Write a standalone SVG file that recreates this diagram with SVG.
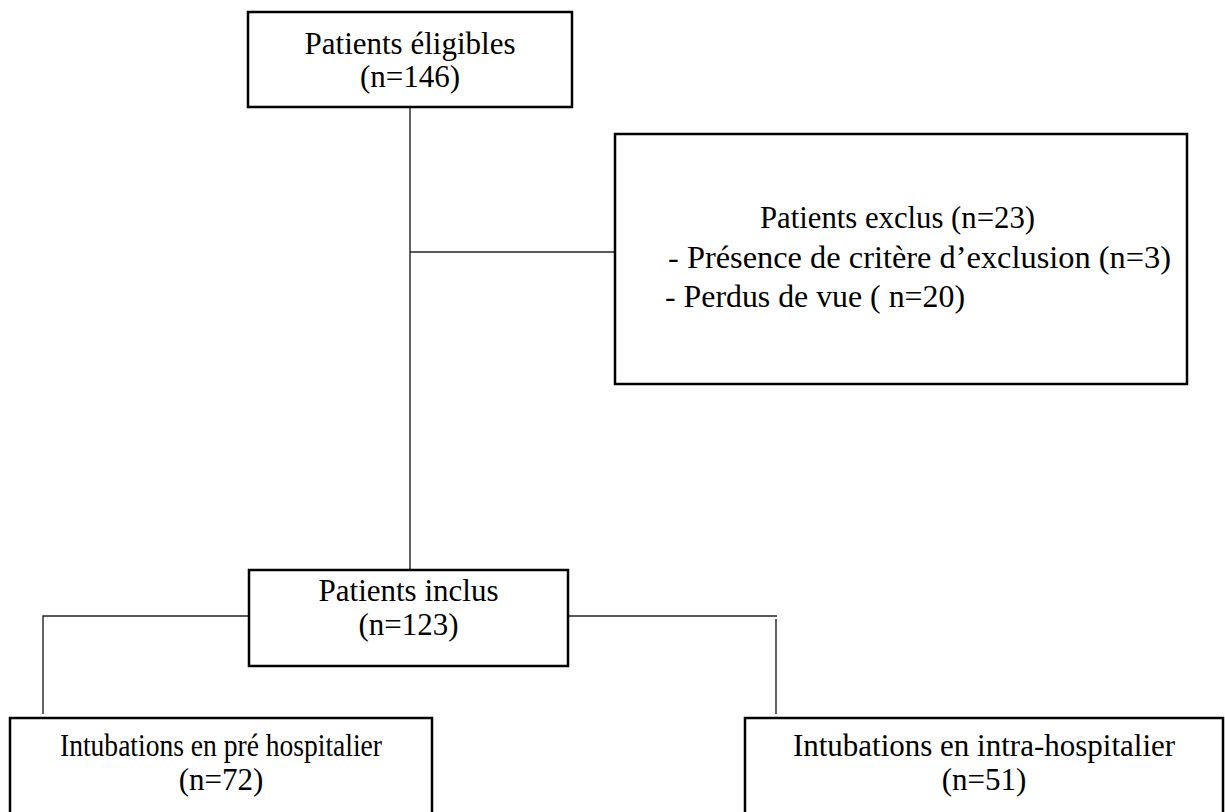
<svg xmlns="http://www.w3.org/2000/svg" width="1225" height="812" viewBox="0 0 1225 812">
<style>
.box{fill:#fff;stroke:#000;stroke-width:2.5}
.con{fill:none;stroke:#222;stroke-width:1.4}
text{font-family:"Liberation Serif","Times New Roman",serif;font-size:31px;fill:#000}
.c{text-anchor:middle}
</style>
<rect width="1225" height="812" fill="#fff"/>
<g id="connectors">
<line class="con" x1="410" y1="107" x2="410" y2="570"/>
<line class="con" x1="410" y1="252" x2="615" y2="252"/>
<polyline class="con" points="249,616 43,616 43,714"/>
<polyline class="con" points="568,616 777,616"/>
<line class="con" x1="776" y1="619" x2="776" y2="714"/>
</g>
<g id="eligibles">
<rect class="box" x="248" y="12" width="324" height="95"/>
<text class="c" x="410" y="54">Patients éligibles</text>
<text class="c" x="410" y="87">(n=146)</text>
</g>
<g id="exclus">
<rect class="box" x="615" y="134" width="572" height="250"/>
<text x="760" y="228" textLength="275" lengthAdjust="spacingAndGlyphs">Patients exclus (n=23)</text>
<text x="668" y="268" textLength="503" lengthAdjust="spacingAndGlyphs">- Présence de critère d’exclusion (n=3)</text>
<text x="665" y="307" textLength="300" lengthAdjust="spacingAndGlyphs">- Perdus de vue ( n=20)</text>
</g>
<g id="inclus">
<rect class="box" x="249" y="570" width="319" height="96"/>
<text class="c" x="408.5" y="601">Patients inclus</text>
<text class="c" x="408.5" y="635">(n=123)</text>
</g>
<g id="pre">
<rect class="box" x="10" y="718" width="422" height="120"/>
<text class="c" x="221" y="756" textLength="322" lengthAdjust="spacingAndGlyphs">Intubations en pré hospitalier</text>
<text class="c" x="221" y="790">(n=72)</text>
</g>
<g id="intra">
<rect class="box" x="745" y="718" width="478" height="120"/>
<text class="c" x="984" y="756">Intubations en intra-hospitalier</text>
<text class="c" x="984" y="790">(n=51)</text>
</g>
</svg>
